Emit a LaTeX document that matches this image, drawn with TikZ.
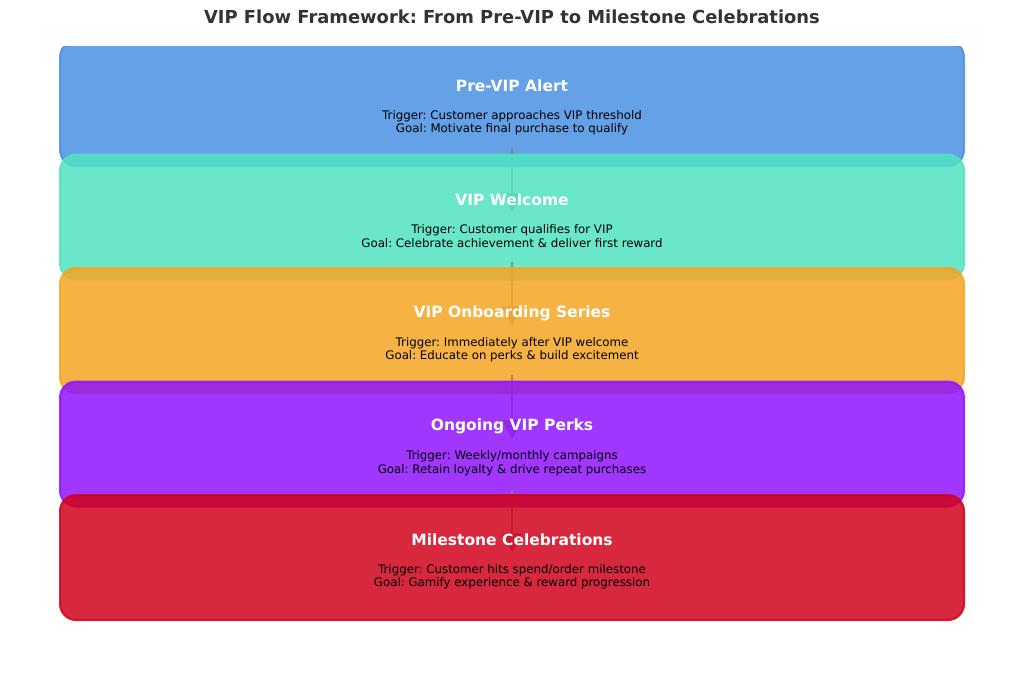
\documentclass[tikz,border=0pt]{standalone}
\usepackage{fontspec}
\setmainfont{DejaVu Sans}
\usetikzlibrary{arrows.meta,calc}
\frenchspacing
\definecolor{cA}{HTML}{4A90E2}
\definecolor{cB}{HTML}{50E3C2}
\definecolor{cC}{HTML}{F5A623}
\definecolor{cD}{HTML}{9013FE}
\definecolor{cE}{HTML}{D0021B}
\definecolor{titlegray}{HTML}{333333}
\tikzset{
  stagebox/.style={draw=#1, fill=#1, fill opacity=0.85, draw opacity=0.85,
    line width=2pt, rounded corners=16pt, minimum width=904pt, minimum height=125pt,
    inner sep=0pt, outer sep=0pt},
  stagetitle/.style={text=white, font=\fontsize{15.5}{18}\selectfont\bfseries, inner sep=0pt},
  stagetext/.style={text=black, font=\fontsize{11.8}{13.5}\selectfont, align=center, inner sep=0pt},
  flowarrow/.style={draw=gray, draw opacity=0.75, fill opacity=0.75, line width=1.4pt,
    -{Triangle[width=20pt,length=19pt,fill=gray]}},
  maintitle/.style={text=titlegray, font=\fontsize{17.9}{22}\selectfont\bfseries, inner sep=0pt}
}
\begin{document}
\begin{tikzpicture}[x=1pt,y=-1pt]
\useasboundingbox (0,0) rectangle (1024,680);
\node[maintitle] (title) at (512,17) {VIP Flow Framework: From Pre-VIP to Milestone Celebrations};
% box 1 (clipped at top)
\begin{scope}
\clip (0,46) rectangle (1024,680);
\node[stagebox=cA] (b1) at (512,103.5) {};
\end{scope}
\node[stagetitle] (t1) at ($(b1.center)+(0,-17.5)$) {Pre-VIP Alert};
\node[stagetext] (d1) at ($(b1.center)+(0,19.2)$) {Trigger: Customer approaches VIP threshold\\Goal: Motivate final purchase to qualify};
\coordinate (s1) at ($(b1.center)+(0,44.5)$);
\coordinate (e1) at ($(b1.center)+(0,108.5)$);
\draw[flowarrow] (s1) -- (e1);
% box 2
\node[stagebox=cB] (b2) at (512,217) {};
\node[stagetitle] (t2) at ($(b2.center)+(0,-17.5)$) {VIP Welcome};
\node[stagetext] (d2) at ($(b2.center)+(0,19.2)$) {Trigger: Customer qualifies for VIP\\Goal: Celebrate achievement \& deliver first reward};
\coordinate (s2) at ($(b2.center)+(0,44.5)$);
\coordinate (e2) at ($(b2.center)+(0,108.5)$);
\draw[flowarrow] (s2) -- (e2);
% box 3
\node[stagebox=cC] (b3) at (512,330.5) {};
\node[stagetitle] (t3) at ($(b3.center)+(0,-17.5)$) {VIP Onboarding Series};
\node[stagetext] (d3) at ($(b3.center)+(0,19.2)$) {Trigger: Immediately after VIP welcome\\Goal: Educate on perks \& build excitement};
\coordinate (s3) at ($(b3.center)+(0,44.5)$);
\coordinate (e3) at ($(b3.center)+(0,108.5)$);
\draw[flowarrow] (s3) -- (e3);
% box 4
\node[stagebox=cD] (b4) at (512,444) {};
\node[stagetitle] (t4) at ($(b4.center)+(0,-17.5)$) {Ongoing VIP Perks};
\node[stagetext] (d4) at ($(b4.center)+(0,19.2)$) {Trigger: Weekly/monthly campaigns\\Goal: Retain loyalty \& drive repeat purchases};
\coordinate (s4) at ($(b4.center)+(0,44.5)$);
\coordinate (e4) at ($(b4.center)+(0,108.5)$);
\draw[flowarrow] (s4) -- (e4);
% box 5
\node[stagebox=cE] (b5) at (512,557.5) {};
\node[stagetitle] (t5) at ($(b5.center)+(0,-17.5)$) {Milestone Celebrations};
\node[stagetext] (d5) at ($(b5.center)+(0,19.2)$) {Trigger: Customer hits spend/order milestone\\Goal: Gamify experience \& reward progression};
\end{tikzpicture}
\end{document}
